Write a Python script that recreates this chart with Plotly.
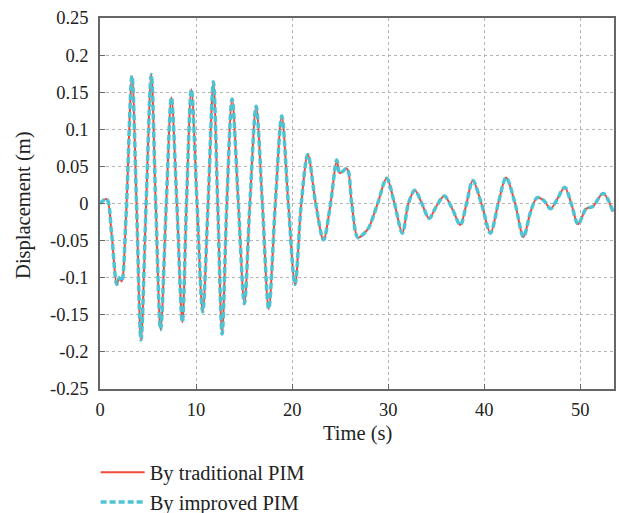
import plotly.graph_objects as go

# Key points (extrema / shoulders) of the displacement history
time_s = [0.0, 0.7, 1.2, 1.75, 2.0, 2.25, 2.7, 3.33, 3.8, 4.27, 4.8, 5.34, 5.8, 6.31, 6.9, 7.43, 8.0, 8.57,
          9.0, 9.51, 10.1, 10.69, 11.25, 11.8, 12.25, 12.71, 13.2, 13.75, 14.4, 15.03, 15.6, 16.25, 16.9,
          17.56, 18.25, 18.92, 19.6, 20.3, 20.95, 21.63, 22.45, 23.26, 24.0, 24.65, 24.96, 25.7, 26.2,
          26.85, 27.65, 28.0, 28.9, 29.84, 30.65, 31.47, 32.1, 32.76, 33.5, 34.26, 35.0, 35.83, 36.7,
          37.5, 38.15, 38.8, 39.7, 40.64, 41.45, 42.27, 43.2, 44.08, 44.8, 45.5, 46.2, 46.9, 47.6, 48.37,
          49.05, 49.76, 50.6, 51.3, 52.37, 53.4]
disp_traditional = [0.0, 0.006, -0.04, -0.109, -0.1, -0.105, -0.02, 0.172, 0.0, -0.184, 0.0, 0.174, 0.0, -0.170,
                    0.0, 0.143, 0.0, -0.160, 0.0, 0.154, 0.0, -0.146, 0.0, 0.164, 0.0, -0.176, 0.0, 0.141, 0.0,
                    -0.135, 0.0, 0.131, 0.0, -0.142, 0.0, 0.118, 0.0, -0.109, 0.0, 0.066, 0.0, -0.049, 0.0,
                    0.0585, 0.041, 0.047, 0.0, -0.046, -0.038, -0.032, 0.0, 0.034, 0.0, -0.040, 0.0, 0.018,
                    0.0, -0.020, -0.004, 0.010, -0.008, -0.029, 0.0, 0.031, 0.0, -0.040, 0.0, 0.035, 0.0,
                    -0.045, -0.012, 0.008, 0.004, -0.007, 0.006, 0.022, 0.0, -0.028, -0.007, -0.004, 0.0135,
                    -0.011]
disp_improved = list(disp_traditional)

y_ticks = [0.25, 0.2, 0.15, 0.1, 0.05, 0, -0.05, -0.1, -0.15, -0.2, -0.25]
y_tick_text = ["0.25", "0.2", "0.15", "0.1", "0.05", "0", "-0.05", "-0.1", "-0.15", "-0.2", "-0.25"]
x_ticks = [0, 10, 20, 30, 40, 50]
x_title = "Time (s)"
y_title = "Displacement (m)"

font_family = "Liberation Serif"
text_color = "#222222"

fig = go.Figure()
fig.add_trace(go.Scatter(x=time_s, y=disp_traditional, mode="lines", name="By traditional PIM",
                         line=dict(color="#F04A3A", width=2, shape="spline", smoothing=0.9)))
fig.add_trace(go.Scatter(x=time_s, y=disp_improved, mode="lines", name="By improved PIM",
                         line=dict(color="#4EC3D3", width=3.5, dash="6px,3px", shape="spline", smoothing=0.9)))

axis_common = dict(showline=True, linecolor="#666666", linewidth=1.5, mirror=True,
                   showgrid=True, gridcolor="#B5B5B5", griddash="dot", gridwidth=1,
                   ticks="inside", ticklen=5, tickcolor="#666666", zeroline=False, automargin=False,
                   tickfont=dict(family=font_family, size=18.5, color=text_color))

fig.update_xaxes(range=[0, 53.5], tickvals=x_ticks, ticklabelstandoff=3, **axis_common)
fig.update_yaxes(range=[-0.25, 0.25], tickvals=y_ticks, ticktext=y_tick_text, ticklabelstandoff=6,
                 **axis_common)

title_font = dict(family=font_family, size=20.5, color=text_color)
fig.add_annotation(text=x_title, xref="paper", yref="paper", x=0.501, y=-0.121,
                   xanchor="center", yanchor="middle", showarrow=False, font=title_font)
fig.add_annotation(text=y_title, xref="paper", yref="paper", x=-0.148, y=0.496, textangle=-90,
                   xanchor="center", yanchor="middle", showarrow=False, font=title_font)

fig.update_layout(
    width=619, height=513,
    margin=dict(l=100, r=5, t=18, b=124, autoexpand=False),
    paper_bgcolor="white", plot_bgcolor="white",
    font=dict(family=font_family, color=text_color),
    legend=dict(xref="container", yref="container", x=0.1545, y=0.118, xanchor="left", yanchor="top",
                orientation="v", itemwidth=44,
                font=dict(family=font_family, size=20.5, color=text_color),
                bgcolor="rgba(0,0,0,0)", tracegroupgap=0),
)

fig.write_html("out.html")
